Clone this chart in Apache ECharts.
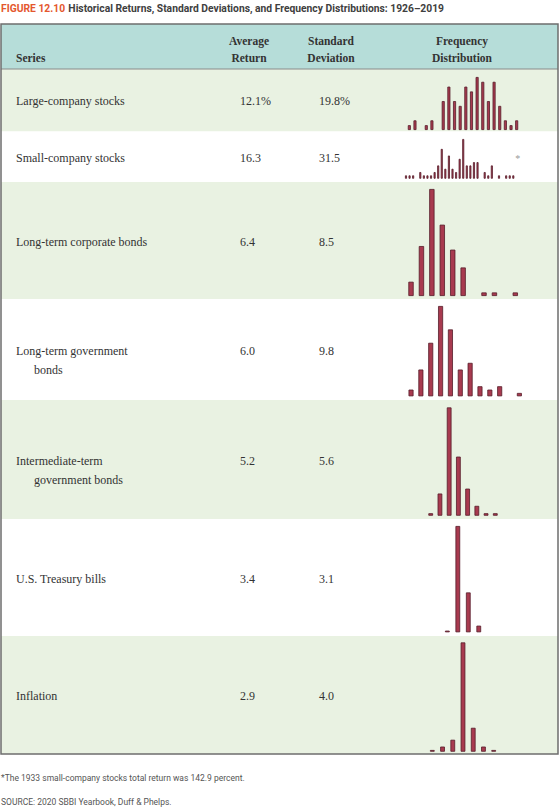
<!DOCTYPE html>
<html>
<head>
<meta charset="utf-8">
<script src="https://cdn.jsdelivr.net/npm/echarts@6/dist/echarts.min.js"></script>
<style>
html,body{margin:0;padding:0;background:#fff;}
#chart{width:560px;height:807px;}
</style>
</head>
<body>
<div id="chart"></div>
<script>
// ---------- DATA ----------
const titleLabel = 'FIGURE 12.10';
const titleText = 'Historical Returns, Standard Deviations, and Frequency Distributions: 1926\u20132019';
const headerSeries = 'Series';
const headerAvg = ['Average', 'Return'];
const headerStd = ['Standard', 'Deviation'];
const headerFreq = ['Frequency', 'Distribution'];
const seriesNames = [
  ['Large-company stocks'],
  ['Small-company stocks'],
  ['Long-term corporate bonds'],
  ['Long-term government', 'bonds'],
  ['Intermediate-term', 'government bonds'],
  ['U.S. Treasury bills'],
  ['Inflation']
];
const avgReturn = ['12.1%', '16.3', '6.4', '6.0', '5.2', '3.4', '2.9'];
const stdDev = ['19.8%', '31.5', '8.5', '9.8', '5.6', '3.1', '4.0'];
// frequency distributions (number of years per return bin)
const largeFreq = [1, 2, 0, 1, 2, 0, 6, 9, 6, 5, 9, 8, 11, 10, 6, 10, 5, 2, 1, 2];
const smallFreq = [1, 1, 1, 0, 2, 1, 1, 1, 2, 4, 9, 3, 7, 3, 2, 6, 12, 4, 4, 5, 5, 0, 2, 1, 4, 0, 1, 0, 1, 1, 1];
const corpFreq = [4, 14, 30, 20, 13, 8, 0, 1, 1, 0, 1];
const govtFreq = [2, 8, 16, 27, 20, 8, 10, 3, 2, 3, 0, 1];
const interFreq = [1, 9, 44, 24, 11, 4, 1, 1];
const tbillFreq = [1, 64, 24, 4];
const inflFreq = [1, 3, 7, 64, 14, 3, 1];
const footnote = '*The 1933 small-company stocks total return was 142.9 percent.';
const sourceNote = 'SOURCE: 2020 SBBI Yearbook, Duff & Phelps.';

const freqs = [largeFreq, smallFreq, corpFreq, govtFreq, interFreq, tbillFreq, inflFreq];

// ---------- LAYOUT ----------
const rowBounds = [69, 131.5, 182, 299, 400, 519, 636, 754];
// histogram placement: left, width, baseline, height, barWidth
const histLayout = [
  [406.5, 113, 130, 53, 3],
  [404.2, 110.9, 178.7, 39.7, 2],
  [405.8, 114.7, 296, 107, 5.3],
  [406.1, 118.2, 396.3, 90.3, 5],
  [426.1, 73.8, 515.7, 108.3, 4.7],
  [442.1, 41.9, 632.3, 106.3, 4.7],
  [427.2, 71.6, 751.7, 109.3, 4.7]
];

const serif = '"Liberation Serif", "Times New Roman", serif';
const sans = 'Roboto, "Liberation Sans", sans-serif';
const green = '#e9f2e2';
const teal = '#b6ddd9';
const textCol = '#333333';

const chart = echarts.init(document.getElementById('chart'), null, {renderer: 'svg'});

const graphic = [];
// title
graphic.push({
  type: 'text', z: 10,
  style: {
    x: 1, y: 8, verticalAlign: 'middle',
    text: '{a|' + titleLabel + '} {b|' + titleText + '}',
    rich: {
      a: {fontFamily: sans, fontSize: 10.3, fontWeight: 'bold', fill: '#e4572e'},
      b: {fontFamily: sans, fontSize: 10.3, fontWeight: 'bold', fill: '#404040'}
    }
  }
});
// header background
graphic.push({type: 'rect', z: 1, shape: {x: 1, y: 24, width: 557, height: 45}, style: {fill: teal}});
// rows
for (let i = 0; i < 7; i++) {
  graphic.push({
    type: 'rect', z: 1,
    shape: {x: 1, y: rowBounds[i], width: 557, height: rowBounds[i + 1] - rowBounds[i]},
    style: {fill: i % 2 === 0 ? green : '#ffffff'}
  });
}
// header bottom line
graphic.push({type: 'line', z: 3, shape: {x1: 1, y1: 69, x2: 558, y2: 69}, style: {stroke: '#8a8a8a', lineWidth: 1}});
// outer border
graphic.push({type: 'rect', z: 4, shape: {x: 1, y: 24, width: 557, height: 730}, style: {fill: 'none', stroke: '#6e6e6e', lineWidth: 1.5}});

// header text
const hFont = 'bold 11.5px ' + serif;
graphic.push({type: 'text', z: 5, style: {x: 16, y: 57.5, text: headerSeries, font: hFont, fill: textCol, verticalAlign: 'middle'}});
[[headerAvg, 249], [headerStd, 331], [headerFreq, 462]].forEach(function (h) {
  graphic.push({type: 'text', z: 5, style: {x: h[1], y: 41, text: h[0][0], font: hFont, fill: textCol, align: 'center', verticalAlign: 'middle'}});
  graphic.push({type: 'text', z: 5, style: {x: h[1], y: 57.5, text: h[0][1], font: hFont, fill: textCol, align: 'center', verticalAlign: 'middle'}});
});

// body text
const bFont = '12px ' + serif;
for (let i = 0; i < 7; i++) {
  const cy = (rowBounds[i] + rowBounds[i + 1]) / 2 + 1;
  seriesNames[i].forEach(function (line, j) {
    graphic.push({type: 'text', z: 5, style: {x: j === 0 ? 16 : 34, y: cy + j * 19, text: line, font: bFont, fill: textCol, verticalAlign: 'middle'}});
  });
  graphic.push({type: 'text', z: 5, style: {x: 240, y: cy, text: avgReturn[i], font: bFont, fill: textCol, verticalAlign: 'middle'}});
  graphic.push({type: 'text', z: 5, style: {x: 319, y: cy, text: stdDev[i], font: bFont, fill: textCol, verticalAlign: 'middle'}});
}
// asterisk
graphic.push({type: 'text', z: 5, style: {x: 517.7, y: 158, text: '*', font: '10px ' + serif, fill: '#9a9a9a', align: 'center', verticalAlign: 'middle'}});
// notes
graphic.push({type: 'text', z: 5, style: {x: 1, y: 778, text: footnote, font: '8.5px ' + sans, fill: '#555555', verticalAlign: 'middle'}});
graphic.push({type: 'text', z: 5, style: {x: 1, y: 802, text: sourceNote, font: '8.5px ' + sans, fill: '#555555', verticalAlign: 'middle'}});

const grids = [], xAxes = [], yAxes = [], series = [];
freqs.forEach(function (f, i) {
  const L = histLayout[i];
  grids.push({left: L[0], width: L[1], top: L[2] - L[3], height: L[3], containLabel: false, z: 6});
  xAxes.push({type: 'category', gridIndex: i, data: f.map(function (_, k) { return k; }), show: false, boundaryGap: true});
  yAxes.push({type: 'value', gridIndex: i, min: 0, max: Math.max.apply(null, f), show: false});
  series.push({
    type: 'bar', xAxisIndex: i, yAxisIndex: i,
    data: f.map(function (v) { return v === 0 ? '-' : v; }),
    barWidth: L[4], z: 6,
    silent: true, animation: false,
    itemStyle: {color: '#a83a4f', borderColor: '#561d29', borderWidth: 0.8}
  });
});

chart.setOption({
  animation: false,
  backgroundColor: '#ffffff',
  graphic: graphic,
  grid: grids,
  xAxis: xAxes,
  yAxis: yAxes,
  series: series
});
</script>
</body>
</html>
